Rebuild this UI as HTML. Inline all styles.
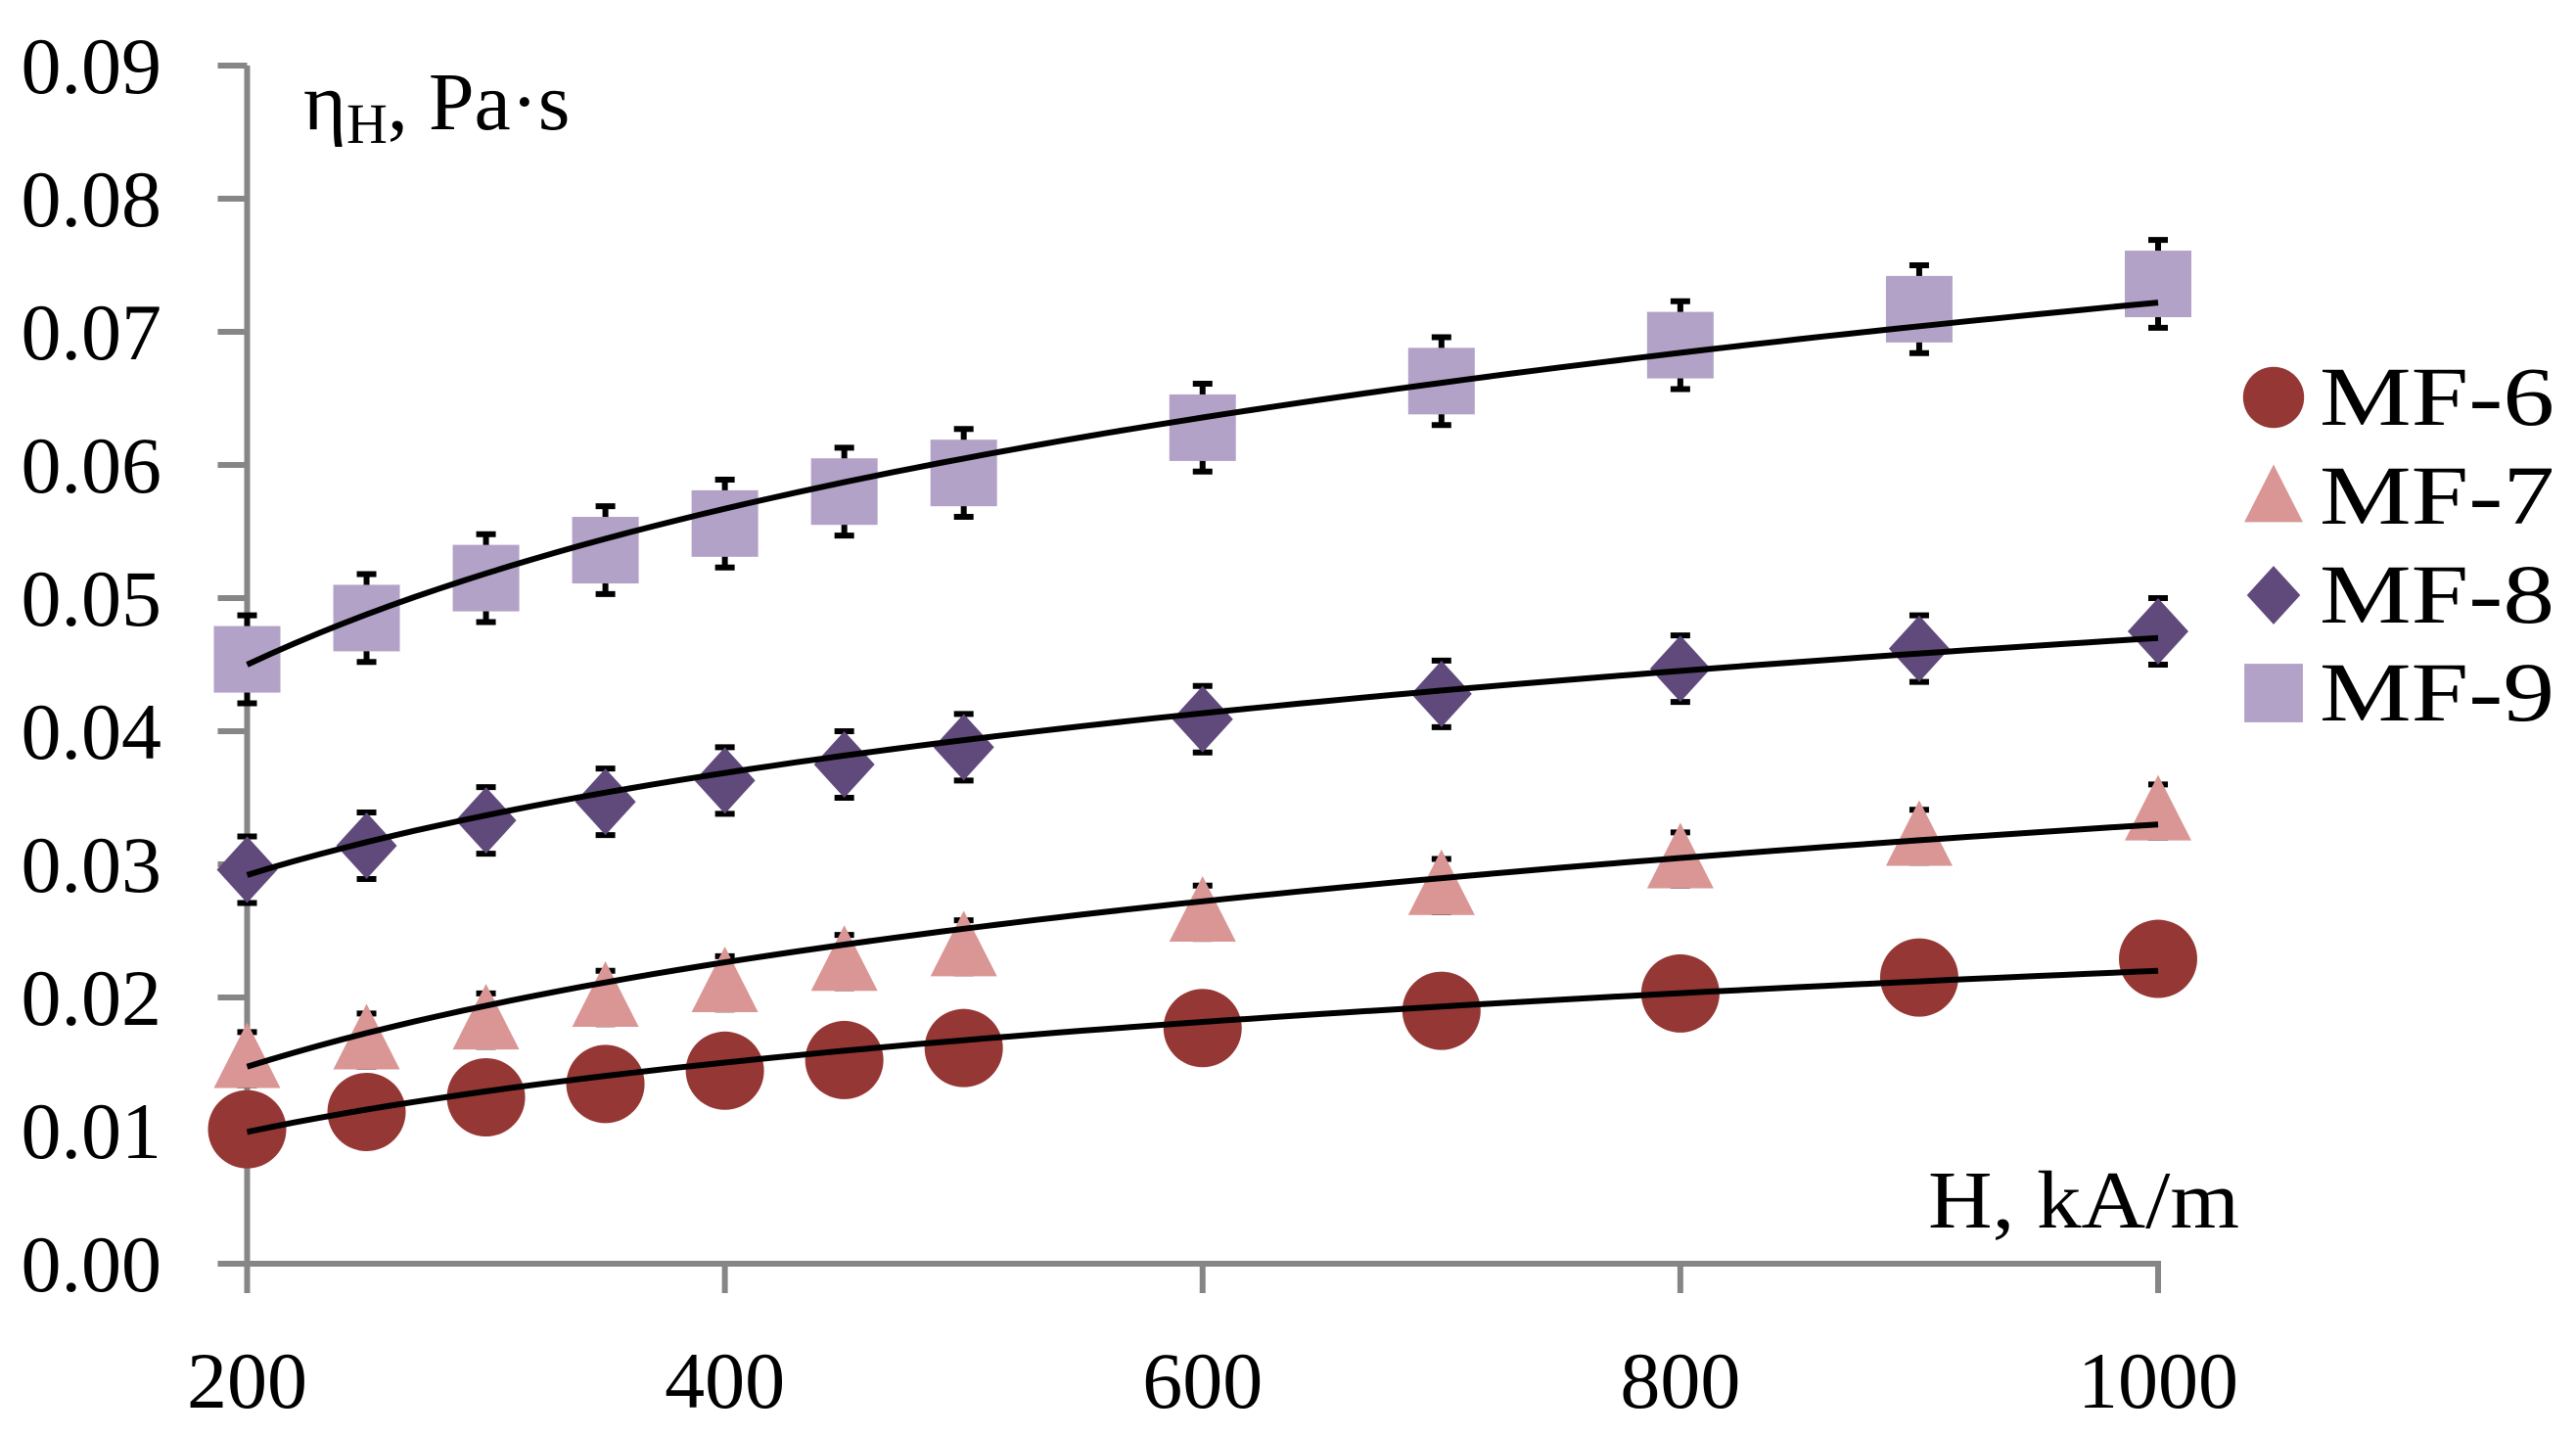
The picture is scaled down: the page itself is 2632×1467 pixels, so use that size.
<!DOCTYPE html>
<html><head><meta charset="utf-8"><style>
html,body{margin:0;padding:0;background:#fff;}
svg{display:block;font-family:"Liberation Serif",serif;}
</style></head><body>
<svg id="chart" width="2632" height="1467" viewBox="0 0 2632 1467" xmlns="http://www.w3.org/2000/svg">
<g id="axes"></g>
<g id="plot"></g>
<text x="310" y="132" font-size="84">η<tspan font-size="58" dy="14">H</tspan><tspan dy="-14">, Pa·s</tspan></text>
<text x="2288" y="1254" font-size="84" text-anchor="end" textLength="318" lengthAdjust="spacingAndGlyphs">H, kA/m</text>
<g id="legend"></g>
</svg>
<script>
const H = [200,250,300,350,400,450,500,600,700,800,900,1000];
const mf6 = [0.0101,0.0114,0.0125,0.0135,0.0145,0.0153,0.0162,0.0177,0.0190,0.0203,0.0215,0.0229];
const mf7 = [0.0154,0.0168,0.0183,0.0200,0.0211,0.0227,0.0238,0.0264,0.0284,0.0304,0.0321,0.0340];
const mf8 = [0.0296,0.0314,0.0333,0.0347,0.0363,0.0375,0.0388,0.0409,0.0428,0.0447,0.0462,0.0475];
const mf9 = [0.0454,0.0485,0.0515,0.0536,0.0556,0.0580,0.0594,0.0628,0.0663,0.0690,0.0717,0.0736];
const errs = [0.0025,0.0020,0.0025,0.0033];
const fitStart = [0.0099,0.0148,0.0292,0.0450];
const fitEnd = [0.0220,0.0330,0.0470,0.0722];
const seriesNames = ['MF-6','MF-7','MF-8','MF-9'];
const xTicks = [200,400,600,800,1000];
const yTicks = [0,0.01,0.02,0.03,0.04,0.05,0.06,0.07,0.08,0.09];

const NS='http://www.w3.org/2000/svg';
const X0=252.5,X1=2205,Y0=1291,Y1=67;
const sx=v=>X0+(v-200)/800*(X1-X0);
const sy=v=>Y0-v/0.09*(Y0-Y1);
function mk(tag,attrs,parent){const e=document.createElementNS(NS,tag);for(const k in attrs)e.setAttribute(k,attrs[k]);parent.appendChild(e);return e;}
const axes=document.getElementById('axes'),plot=document.getElementById('plot'),legend=document.getElementById('legend');
const gray='#868686';
let e=mk('line',{x1:X0,y1:Y1,x2:X0,y2:Y0+30,stroke:gray,'stroke-width':6},axes);

e=mk('line',{x1:X0-30,y1:Y0,x2:X1+3,y2:Y0,stroke:gray,'stroke-width':6},axes);

yTicks.forEach(v=>{
  const t=mk('line',{x1:X0-30,y1:sy(v),x2:X0,y2:sy(v),stroke:gray,'stroke-width':6},axes);
  
  const l=mk('text',{x:165,y:sy(v)+28,'font-size':82,'text-anchor':'end'},axes);
  l.textContent=v.toFixed(2);
  
});
xTicks.forEach(v=>{
  const t=mk('line',{x1:sx(v),y1:Y0,x2:sx(v),y2:Y0+30,stroke:gray,'stroke-width':6},axes);
  
  const l=mk('text',{x:sx(v),y:1438,'font-size':82,'text-anchor':'middle'},axes);
  l.textContent=v;
  
});
const colors=['#953735','#D99694','#604A7B','#B3A2C7'];
function marker(i,cx,cy,parent,scale){
  const s=scale||1;let m;
  if(i===0)m=mk('ellipse',{cx,cy,rx:40*s,ry:40*s,fill:colors[i]},parent);
  else if(i===1)m=mk('polygon',{points:`${cx},${cy-37*s} ${cx+34*s},${cy+30*s} ${cx-34*s},${cy+30*s}`,fill:colors[i]},parent);
  else if(i===2)m=mk('polygon',{points:`${cx},${cy-34*s} ${cx+31*s},${cy} ${cx},${cy+34*s} ${cx-31*s},${cy}`,fill:colors[i]},parent);
  else m=mk('rect',{x:cx-34*s,y:cy-34*s,width:68*s,height:68*s,fill:colors[i]},parent);
  return m;
}
[mf6,mf7,mf8,mf9].forEach((data,i)=>{
  const g=mk('g',{},plot);
  
  
  data.forEach((v,j)=>{
    const cx=sx(H[j]);
    const eb=mk('path',{d:`M${cx},${sy(v-errs[i])}V${sy(v+errs[i])}M${cx-10},${sy(v-errs[i])}H${cx+10}M${cx-10},${sy(v+errs[i])}H${cx+10}`,stroke:'#000','stroke-width':6,fill:'none'},g);
    
  });
  data.forEach((v,j)=>{
    const m=marker(i,sx(H[j]),sy(v),g);
    
  });
});
fitStart.forEach((a,i)=>{
  const b=(fitEnd[i]-a)/Math.log(5);
  let d='';
  for(let h=200;h<=1000;h+=10){const y=a+b*Math.log(h/200);d+=(h===200?'M':'L')+sx(h).toFixed(1)+','+sy(y).toFixed(1);}
  const p=mk('path',{d,stroke:'#000','stroke-width':6,fill:'none'},plot);
  
  
});
const ly=[406,507,608,708];
seriesNames.forEach((n,i)=>{
  const g=mk('g',{},legend);
  
  
  marker(i,2323,ly[i],g,i===0?0.78:0.88);
  const t=mk('text',{x:2370,y:ly[i]+28,'font-size':86,textLength:240,lengthAdjust:'spacingAndGlyphs'},g);
  t.textContent=n;
});
</script>
</body></html>
